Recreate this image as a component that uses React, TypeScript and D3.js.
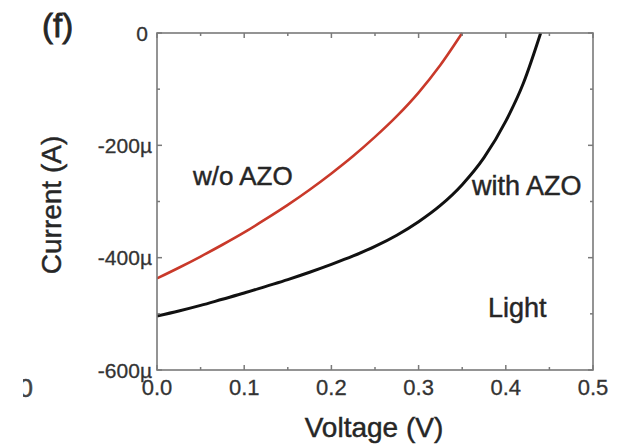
import React from "react";
import * as d3 from "d3";

const voltageRed = [0, 0.025, 0.05, 0.075, 0.1, 0.125, 0.15, 0.175, 0.2, 0.225, 0.25, 0.275, 0.3, 0.325, 0.35];
const currentRed = [-437, -418, -398, -377, -355, -331, -306, -279, -250, -219, -185, -148, -106, -57, 0];

const voltageBlack = [0, 0.025, 0.05, 0.075, 0.1, 0.125, 0.15, 0.175, 0.2, 0.225, 0.25, 0.275, 0.3, 0.325, 0.35, 0.375, 0.4, 0.42, 0.44];
const currentBlack = [-504, -495, -485, -474, -463, -451, -439, -426, -412, -397, -380, -360, -336, -307, -270, -222, -157, -90, 0];

const xMajorTicks = [0, 0.1, 0.2, 0.3, 0.4, 0.5];
const xTickLabels = ["0.0", "0.1", "0.2", "0.3", "0.4", "0.5"];
const xMinorTicks = [0.05, 0.15, 0.25, 0.35, 0.45];
const yMajorTicks = [-600, -400, -200, 0];
const yTickLabels = ["-600µ", "-400µ", "-200µ", "0"];
const yMinorTicks = [-500, -300, -100];

const FONT = "'Liberation Sans', Arial, Helvetica, sans-serif";

export default function App() {
  const W = 618, H = 445;
  const left = 157, right = 593, top = 33, bottom = 370;
  const x = d3.scaleLinear().domain([0, 0.5]).range([left, right]);
  const y = d3.scaleLinear().domain([-600, 0]).range([bottom, top]);

  const line = d3
    .line<[number, number]>()
    .x((d) => x(d[0]))
    .y((d) => y(d[1]))
    .curve(d3.curveMonotoneX);

  const redPts = voltageRed.map((v, i) => [v, currentRed[i]] as [number, number]);
  const blackPts = voltageBlack.map((v, i) => [v, currentBlack[i]] as [number, number]);

  const axisColor = "#7a7a7a";
  const majorLen = 5;
  const minorLen = 3;
  const txt = "#262626";
  const heavy = { stroke: txt, strokeWidth: 0.45 };
  const tickTxt = { stroke: "#333", strokeWidth: 0.3 };

  return (
    <svg
      width={W}
      height={H}
      viewBox={`0 0 ${W} ${H}`}
      style={{ position: "absolute", left: 0, top: 0, background: "#fff" }}
    >
      <defs>
        <clipPath id="plotClip">
          <rect x={left} y={top - 2} width={right - left} height={bottom - top + 2} />
        </clipPath>
        <clipPath id="strayClip">
          <rect x={23} y={360} width={20} height={50} />
        </clipPath>
      </defs>
      <rect x={0} y={0} width={W} height={H} fill="#fff" />

      {/* curves */}
      <g clipPath="url(#plotClip)">
        <path d={line(redPts) || ""} fill="none" stroke="#c9392a" strokeWidth={2.6} />
        <path d={line(blackPts) || ""} fill="none" stroke="#111" strokeWidth={3} />
      </g>

      {/* frame */}
      <rect
        x={left}
        y={top}
        width={right - left}
        height={bottom - top}
        fill="none"
        stroke={axisColor}
        strokeWidth={1.6}
      />

      {/* x ticks (bottom & top, inward) */}
      {xMajorTicks.map((t) => (
        <g key={"xm" + t}>
          <line x1={x(t)} x2={x(t)} y1={bottom} y2={bottom - majorLen} stroke={axisColor} strokeWidth={1.5} />
          <line x1={x(t)} x2={x(t)} y1={top} y2={top + majorLen} stroke={axisColor} strokeWidth={1.5} />
        </g>
      ))}
      {xMinorTicks.map((t) => (
        <g key={"xn" + t}>
          <line x1={x(t)} x2={x(t)} y1={bottom} y2={bottom - minorLen} stroke={axisColor} strokeWidth={1.5} />
          <line x1={x(t)} x2={x(t)} y1={top} y2={top + minorLen} stroke={axisColor} strokeWidth={1.5} />
        </g>
      ))}
      {/* y ticks (left & right, inward) */}
      {yMajorTicks.map((t) => (
        <g key={"ym" + t}>
          <line x1={left} x2={left + majorLen} y1={y(t)} y2={y(t)} stroke={axisColor} strokeWidth={1.5} />
          <line x1={right} x2={right - majorLen} y1={y(t)} y2={y(t)} stroke={axisColor} strokeWidth={1.5} />
        </g>
      ))}
      {yMinorTicks.map((t) => (
        <g key={"yn" + t}>
          <line x1={left} x2={left + minorLen} y1={y(t)} y2={y(t)} stroke={axisColor} strokeWidth={1.5} />
          <line x1={right} x2={right - minorLen} y1={y(t)} y2={y(t)} stroke={axisColor} strokeWidth={1.5} />
        </g>
      ))}

      {/* x tick labels */}
      {xMajorTicks.map((t, i) => (
        <text
          key={"xl" + t}
          x={x(t)}
          y={395}
          textAnchor="middle"
          fontFamily={FONT}
          fontSize={22}
          fill="#333"
          {...tickTxt}
        >
          {xTickLabels[i]}
        </text>
      ))}
      {/* y tick labels */}
      {yMajorTicks.map((t, i) => (
        <text
          key={"yl" + t}
          x={t === 0 ? 148 : 152}
          y={y(t) + 7.5}
          textAnchor="end"
          fontFamily={FONT}
          fontSize={21}
          fill="#333"
          {...tickTxt}
        >
          {yTickLabels[i]}
        </text>
      ))}

      {/* axis titles */}
      <text x={374} y={437} textAnchor="middle" fontFamily={FONT} fontSize={28} fill={txt} {...heavy}>
        Voltage (V)
      </text>
      <text
        transform={`translate(61,205) rotate(-90)`}
        textAnchor="middle"
        fontFamily={FONT}
        fontSize={28}
        fill={txt}
        {...heavy}
      >
        Current (A)
      </text>

      {/* panel label */}
      <text x={42} y={37} fontFamily={FONT} fontSize={33} fill={txt} stroke={txt} strokeWidth={0.8}>
        (f)
      </text>

      {/* annotations */}
      <text x={193} y={185} fontFamily={FONT} fontSize={26} fill={txt} {...heavy}>
        w/o AZO
      </text>
      <text x={472} y={195} fontFamily={FONT} fontSize={27} fill={txt} {...heavy}>
        with AZO
      </text>
      <text x={488} y={317} fontFamily={FONT} fontSize={27} fill={txt} {...heavy}>
        Light
      </text>

      {/* stray clipped glyph from neighboring panel */}
      <g clipPath="url(#strayClip)">
        <text x={33} y={397} textAnchor="end" fontFamily={FONT} fontSize={26} fill="#444" stroke="#444" strokeWidth={0.5}>
          0
        </text>
      </g>
    </svg>
  );
}
